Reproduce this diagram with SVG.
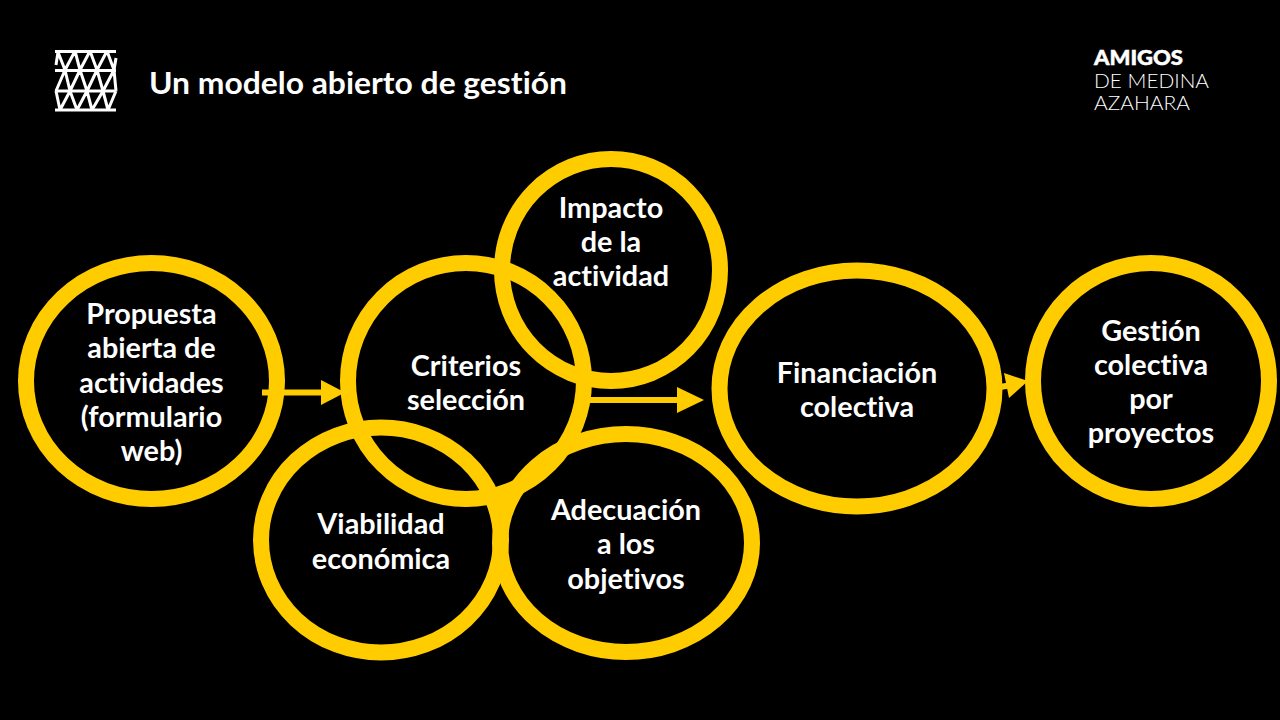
<svg xmlns="http://www.w3.org/2000/svg" width="1280" height="720" viewBox="0 0 1280 720">
<style>
.ring{fill:none;stroke:#ffcc00;stroke-width:16}
.lbl{font-family:Lato,"Open Sans",sans-serif;font-weight:700;font-size:28.800px;fill:#fff;text-anchor:middle;font-variant-ligatures:none}
.arrow{stroke:#ffcc00;stroke-width:6;fill:none}
.head{fill:#ffcc00}
.ico{stroke:#fff;fill:none}
</style>
<rect width="1280" height="720" fill="#000"/>
<g id="icon">
<path class="ico" stroke-width="3" d="M55 51.500H116M55 70.500H116M55 91H116M55 110H116"/>
<path class="ico" stroke-width="3" stroke-linejoin="bevel" d="M56 65L58 52L65 70L75 51L80 70L90 51L97 70L107 51L114 70L116 58M56 91L65 70L70 91L80 70L87 91L97 70L103 91L114 70L116 91M56 91L60 110L70 91L77 110L87 91L92 110L103 91L108 110L116 91"/>
</g>
<text id="title" x="149" y="94" font-family="Lato,sans-serif" font-weight="700" font-size="31px" fill="#fff" textLength="418" lengthAdjust="spacingAndGlyphs" style="font-variant-ligatures:none">Un modelo abierto de gestión</text>
<g id="logo" font-family="Lato,sans-serif" fill="#fff">
<text x="1094" y="65" font-weight="900" font-size="20.500px" textLength="89" lengthAdjust="spacingAndGlyphs" stroke="#fff" stroke-width="0.500">AMIGOS</text>
<text x="1094" y="88" font-weight="300" font-size="20.500px" textLength="115" lengthAdjust="spacingAndGlyphs">DE MEDINA</text>
<text x="1094" y="110" font-weight="300" font-size="20.500px" textLength="96" lengthAdjust="spacingAndGlyphs">AZAHARA</text>
</g>
<g id="connectors">
<path class="arrow" d="M262 392.500H322"/>
<path class="head" d="M321 380L345 392.500L321 405Z"/>
<path class="arrow" d="M590 400H678"/>
<path class="head" d="M677 387L704 400L677 413Z"/>
<path class="arrow" d="M1000 387L1012 385"/>
<path class="head" d="M1004 373L1028 381L1009 398Z"/>
</g>
<g id="node-propuesta">
<ellipse class="ring" cx="151.500" cy="381" rx="125.500" ry="118"/>
<text class="lbl"><tspan x="151.500" y="323.500">Propuesta</tspan><tspan x="151.500" y="358">abierta de</tspan><tspan x="151.500" y="393">actividades</tspan><tspan x="151.500" y="427">(formulario</tspan><tspan x="151.500" y="461">web)</tspan></text>
</g>
<g id="node-criterios">
<circle class="ring" cx="466" cy="381" r="118"/>
<text class="lbl"><tspan x="466" y="375.500">Criterios</tspan><tspan x="466" y="409.500">selección</tspan></text>
</g>
<g id="node-impacto">
<ellipse class="ring" cx="611" cy="270" rx="109" ry="111"/>
<text class="lbl"><tspan x="611" y="217.500">Impacto</tspan><tspan x="611" y="252">de la</tspan><tspan x="611" y="286">actividad</tspan></text>
</g>
<g id="node-viabilidad">
<ellipse class="ring" cx="381" cy="540" rx="120" ry="112.500"/>
<text class="lbl"><tspan x="381" y="533.500">Viabilidad</tspan><tspan x="381" y="568.500">económica</tspan></text>
</g>
<g id="node-adecuacion">
<ellipse class="ring" cx="626" cy="543" rx="126" ry="109"/>
<text class="lbl"><tspan x="626" y="519.500">Adecuación</tspan><tspan x="626" y="554">a los</tspan><tspan x="626" y="589">objetivos</tspan></text>
</g>
<g id="node-financiacion">
<ellipse class="ring" cx="857" cy="388.500" rx="137.500" ry="118"/>
<text class="lbl"><tspan x="857" y="382.500">Financiación</tspan><tspan x="857" y="416.500">colectiva</tspan></text>
</g>
<g id="node-gestion">
<circle class="ring" cx="1151" cy="381" r="118"/>
<text class="lbl"><tspan x="1151" y="340.500">Gestión</tspan><tspan x="1151" y="375">colectiva</tspan><tspan x="1151" y="408.500">por</tspan><tspan x="1151" y="442.500">proyectos</tspan></text>
</g>
</svg>
